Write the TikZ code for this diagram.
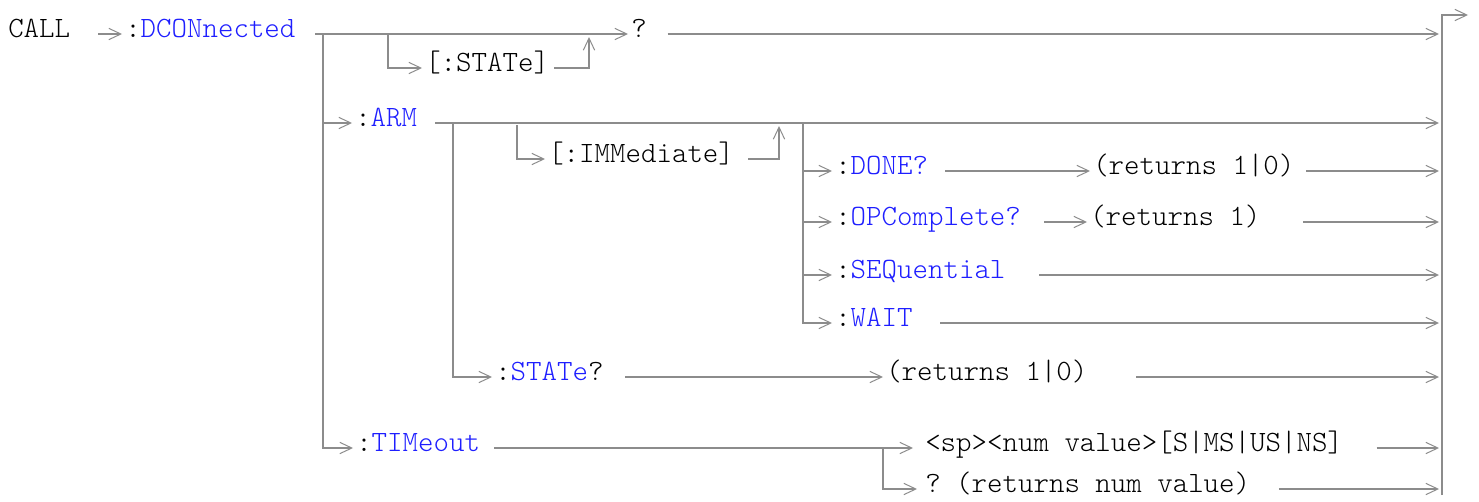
\documentclass[tikz,border=0pt]{standalone}
\usepackage{fontspec}
\setmonofont{Latin Modern Mono Light}
\usetikzlibrary{arrows.meta}
\definecolor{linegray}{RGB}{140,140,140}
\definecolor{kwblue}{RGB}{30,30,255}
\newcommand{\kw}[1]{\textcolor{kwblue}{#1}}
\tikzset{
    entry/.style={anchor=west, inner sep=0pt, text height=12pt, text depth=6.8pt, font=\ttfamily\fontsize{22.1pt}{24pt}\selectfont},
    pathline/.style={draw=linegray, line width=1.5pt},
    patharrow/.style={pathline, -{Straight Barb[length=9pt,width=8.5pt,line width=0.75pt]}, shorten >=2.25pt}
}

\begin{document}
\begin{tikzpicture}[x=0.75pt, y=-0.75pt]
    \useasboundingbox (0,0) rectangle (1479,501);

    % command words
    \node[entry] (call) at (8,34) {CALL};
    \node[entry] (dcon) at (125,34) {:\kw{DCONnected}};
    \node[entry] (ostate) at (425,68) {[:STATe]};
    \node[entry] (qmark) at (631,34) {?};
    \node[entry] (arm) at (355,123) {:\kw{ARM}};
    \node[entry] (oimm) at (548,159) {[:IMMediate]};
    \node[entry] (done) at (835,171) {:\kw{DONE?}};
    \node[entry] (dret) at (1093,171) {(returns 1|0)};
    \node[entry] (opc) at (835,222) {:\kw{OPComplete?}};
    \node[entry] (oret) at (1090,222) {(returns 1)};
    \node[entry] (seq) at (835,275) {:\kw{SEQuential}};
    \node[entry] (wait) at (835,323) {:\kw{WAIT}};
    \node[entry] (ast) at (495,377) {:\kw{STATe}?};
    \node[entry] (aret) at (886,377) {(returns 1|0)};
    \node[entry] (tim) at (356,448) {:\kw{TIMeout}};
    \node[entry] (tval) at (925,448) {<sp><num value>[S|MS|US|NS]};
    \node[entry] (tq) at (925,489) {? (returns num value)};

    % forks, joins and the end bar
    \coordinate (trunk) at (323,34);
    \coordinate (stfork) at (388,34);
    \coordinate (stjoin) at (589,34);
    \coordinate (armfork) at (453,123);
    \coordinate (immfork) at (517,125);
    \coordinate (immjoin) at (779,123);
    \coordinate (subfork) at (803,123);
    \coordinate (timfork) at (883,448);
    \coordinate (bar) at (1442,0);
    \coordinate (bartop) at (1442,15);
    \coordinate (barbot) at (1442,495);
    \coordinate (exit) at (1471,15);

    \draw[patharrow] (call.east) ++(28,0) -- (dcon.west);
    \draw[patharrow] (dcon.east) ++(19.5,0) -- (qmark.west);
    \draw[patharrow] (trunk) |- (tim.west);
    \draw[patharrow] (stfork) |- (ostate.west);
    \draw[patharrow] (ostate.east) ++(5,0) -| (stjoin);
    \draw[patharrow] (qmark.east) ++(20.5,0) -- (qmark.east -| bar);

    \draw[patharrow] (trunk |- arm.west) -- (arm.west);
    \draw[patharrow] (arm.east) ++(18,0) -- (arm.east -| bar);
    \draw[patharrow] (immfork) |- (oimm.west);
    \draw[patharrow] (oimm.east) ++(14,0) -| (immjoin);
    \draw[patharrow] (subfork) |- (wait.west);
    \draw[patharrow] (subfork |- done.west) -- (done.west);
    \draw[patharrow] (subfork |- opc.west) -- (opc.west);
    \draw[patharrow] (subfork |- seq.west) -- (seq.west);

    \draw[patharrow] (done.east) ++(17,0) -- (dret.west);
    \draw[patharrow] (dret.east) ++(11.5,0) -- (dret.east -| bar);
    \draw[patharrow] (opc.east) ++(23,0) -- (oret.west);
    \draw[patharrow] (oret.east) ++(42.5,0) -- (oret.east -| bar);
    \draw[patharrow] (seq.east) ++(33.5,0) -- (seq.east -| bar);
    \draw[patharrow] (wait.east) ++(27.5,0) -- (wait.east -| bar);

    \draw[patharrow] (armfork) |- (ast.west);
    \draw[patharrow] (ast.east) ++(21.5,0) -- (aret.west);
    \draw[patharrow] (aret.east) ++(48.5,0) -- (aret.east -| bar);

    \draw[patharrow, shorten >=9pt] (tim.east) ++(14,0) -- (tval.west);
    \draw[patharrow, shorten >=6pt] (timfork) |- (tq.west);
    \draw[patharrow] (tval.east) ++(33.5,0) -- (tval.east -| bar);
    \draw[patharrow] (tq.east) ++(28.5,0) -- (tq.east -| bar);

    \draw[patharrow] (barbot) -- (bartop) -- (exit);
\end{tikzpicture}
\end{document}
